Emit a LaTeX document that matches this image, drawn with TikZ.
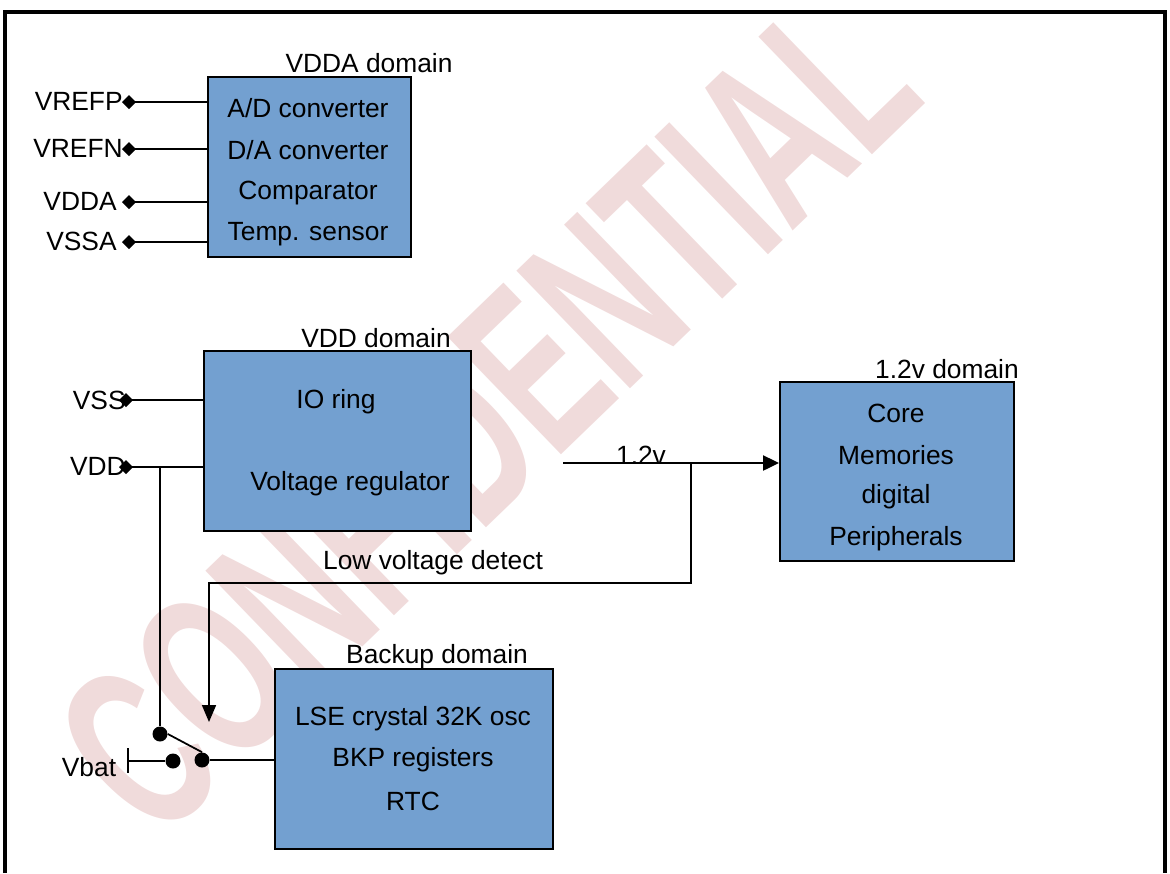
\documentclass[tikz,border=0pt]{standalone}
\usepackage{fontspec}
\setmainfont{Liberation Sans}
\usetikzlibrary{arrows.meta,positioning}
\definecolor{boxblue}{RGB}{115,160,208}
\definecolor{wmpink}{RGB}{240,219,219}

\begin{document}
\begin{tikzpicture}[x=0.02cm,y=-0.02cm,font=\fontsize{15}{18}\selectfont]
\tikzstyle{dombox} = [rectangle, draw=black, line width=1pt, fill=boxblue, anchor=north west, inner sep=0pt]
\tikzstyle{txt} = [inner sep=0pt]
\tikzstyle{pinline} = [line width=1pt, {Diamond[length=0.28cm,width=0.28cm]}-]
\tikzstyle{wire} = [line width=1pt]
\tikzstyle{dot} = [circle, fill=black, inner sep=0pt, minimum size=0.3cm]
\tikzstyle{wmark} = [rotate=44, yscale=1.65, text=wmpink, inner sep=0pt, font=\fontsize{82}{90}\selectfont\bfseries]
\useasboundingbox (0,0) rectangle (1170,873);
% watermark behind everything
\node[wmark] (wm) at (486,414) {CONFIDENTIAL};
\draw[line width=2.2pt] (5,873) -- (5,12) -- (1165,12) -- (1165,873);

\node[dombox, minimum width=4.06cm, minimum height=3.6cm] (adc) at (207,76) {};
\node[dombox, minimum width=5.34cm, minimum height=3.6cm] (vdd) at (203,350) {};
\node[dombox, minimum width=4.68cm, minimum height=3.58cm] (core) at (779,381) {};
\node[dombox, minimum width=5.56cm, minimum height=3.6cm] (bkp) at (274,668) {};

\node[txt] (adcname) at (369,63) {VDDA domain};
\node[txt] (ad) at (308,108) {A/D converter};
\node[txt] (da) at (308,150) {D/A converter};
\node[txt] (comp) at (308,193) {Comparator};
\node[txt] (temp) at (308,234) {Temp. sensor};

\node[txt] (vddname) at (376,338) {VDD domain};
\node[txt] (io) at (336,402) {IO ring};
\node[txt] (vreg) at (350,484) {Voltage regulator};

\node[txt] (corename) at (947,369) {1.2v domain};
\node[txt] (cr) at (896,413) {Core};
\node[txt] (mem) at (896,455) {Memories};
\node[txt] (dig) at (896,497) {digital};
\node[txt] (per) at (896,539) {Peripherals};

\node[txt] (bkpname) at (437,657) {Backup domain};
\node[txt] (lse) at (413,719) {LSE crystal 32K osc};
\node[txt] (regs) at (413,760) {BKP registers};
\node[txt] (rtc) at (413,801) {RTC};

% analog pins
\coordinate (refp) at (122,102);
\coordinate (refn) at (122,149);
\coordinate (vdda) at (122,202);
\coordinate (vssa) at (122,242);
\node[txt, anchor=east] (refpl) at (123,101) {VREFP};
\node[txt, anchor=east] (refnl) at (123,148) {VREFN};
\node[txt, anchor=east] (vddal) at (117,201) {VDDA};
\node[txt, anchor=east] (vssal) at (117,241) {VSSA};
\draw[pinline] (refp) -- (adc.west |- refp);
\draw[pinline] (refn) -- (adc.west |- refn);
\draw[pinline] (vdda) -- (adc.west |- vdda);
\draw[pinline] (vssa) -- (adc.west |- vssa);

% supply pins
\coordinate (vss) at (119,400);
\coordinate (vddp) at (119,467);
\node[txt, anchor=east] (vssl) at (126,400) {VSS};
\node[txt, anchor=east] (vddl) at (126,466) {VDD};
\draw[pinline] (vss) -- (vdd.west |- vss);
\draw[pinline] (vddp) -- (vdd.west |- vddp);

% 1.2v output and low voltage detect
\coordinate (vout) at (563,463);
\coordinate (tap) at (691,463);
\coordinate (lvd) at (209,583);
\coordinate (lvdend) at (209,722);
\draw[line width=1.4pt, -{Triangle[length=0.32cm,width=0.3cm]}] (vout) -- (core.west |- vout);
\node[txt] (vlab) at (641,455) {1.2v};
\draw[wire, -{Triangle[length=0.34cm,width=0.28cm]}] (tap) |- (lvd) -- (lvdend);
\node[txt] (lvdl) at (433,563) {Low voltage detect};

% backup switch
\node[dot] (swtop) at (160,734) {};
\node[dot] (swbat) at (173,761) {};
\node[dot] (swout) at (202,760) {};
\coordinate (vddtap) at (160,467);
\draw[wire] (vddtap) -- (swtop);
\draw[wire] (swtop.east) -- (swout.north);
\draw[wire] (swout) -- (bkp.west |- swout);
\coordinate (batend) at (128,761);
\draw[wire] (128,748) -- (128,773);
\draw[wire] (batend) -- (swbat);
\node[txt] (vbat) at (89,767) {Vbat};
\end{tikzpicture}
\end{document}
